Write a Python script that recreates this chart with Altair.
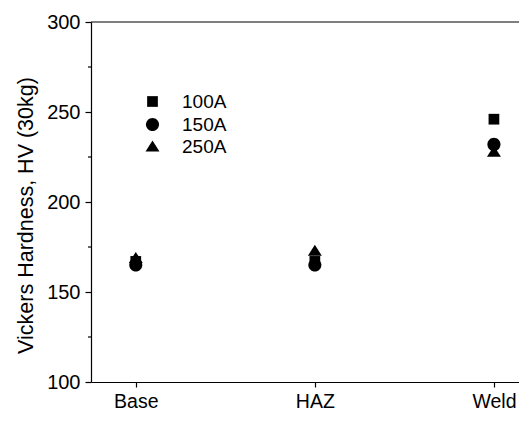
import altair as alt
import pandas as pd

locations = ["Base", "HAZ", "Weld"]
positions = [1, 2, 3]
currents = ["100A", "150A", "250A"]
hv_100A = [167, 167, 246]
hv_150A = [165, 165, 232]
hv_250A = [169, 173, 228]

rows = []
for cur, vals in zip(currents, [hv_100A, hv_150A, hv_250A]):
    for loc, pos, v in zip(locations, positions, vals):
        rows.append({"loc": loc, "pos": pos, "current": cur, "hv": v})
df = pd.DataFrame(rows)

font = "Liberation Sans"
sq = "M-1,-1L1,-1L1,1L-1,1Z"
ci = "M-1.22,0A1.22,1.22,0,1,0,1.22,0A1.22,1.22,0,1,0,-1.22,0Z"
tri = "M0,-1.1L1.3,0.95L-1.3,0.95Z"
shape_scale = alt.Scale(domain=currents, range=[sq, ci, tri])

x_enc = alt.X("pos:Q", scale=alt.Scale(domain=[0.75, 3.14], nice=False, zero=False),
              axis=alt.Axis(values=positions, labelExpr="['','Base','HAZ','Weld'][datum.value]",
                            title=None, grid=False, tickSize=5, labelPadding=5,
                            domainColor="black", tickColor="black", labelColor="black",
                            labelFont=font, labelFontSize=19.5))
y_enc = alt.Y("hv:Q", scale=alt.Scale(domain=[100, 300], nice=False, zero=False),
              axis=alt.Axis(values=[100, 150, 200, 250, 300], grid=False, tickSize=6,
                            title="Vickers Hardness, HV (30kg)", titleFont=font,
                            titleFontSize=21.5, titleFontWeight="normal", titleColor="black",
                            titlePadding=9, titleY=193, labelPadding=5,
                            domainColor="black", tickColor="black", labelColor="black",
                            labelFont=font, labelFontSize=20))

points = alt.Chart(df).mark_point(filled=True, color="black", opacity=1, size=115).encode(
    x=x_enc, y=y_enc,
    shape=alt.Shape("current:N", scale=shape_scale,
                    legend=alt.Legend(title=None, orient="none", legendX=52, legendY=70,
                                      labelFont=font, labelFontSize=19, labelColor="black",
                                      symbolFillColor="black", symbolStrokeColor="black",
                                      symbolSize=115, rowPadding=2, labelOffset=20,
                                      symbolOffset=0)),
)

minor = alt.Chart(pd.DataFrame({"v": [125, 175, 225, 275]})).mark_rule(
    color="black", strokeWidth=1.2).encode(
    x=alt.value(-3), x2=alt.value(0), y=alt.Y("v:Q"))

top_rule = alt.Chart(pd.DataFrame({"v": [300]})).mark_rule(color="black", strokeWidth=1.2).encode(
    y=alt.Y("v:Q"), x=alt.value(0), x2=alt.value(428))

chart = alt.layer(points, top_rule, minor).properties(
    width=428, height=360,
    autosize=alt.AutoSizeParams(type="none"),
    padding={"left": 83, "top": 14, "right": 0, "bottom": 31},
).configure_view(stroke=None).configure_axis(domainWidth=1.2, tickWidth=1.2)

chart.save("out.html", embed_options={"renderer": "svg", "actions": False})
